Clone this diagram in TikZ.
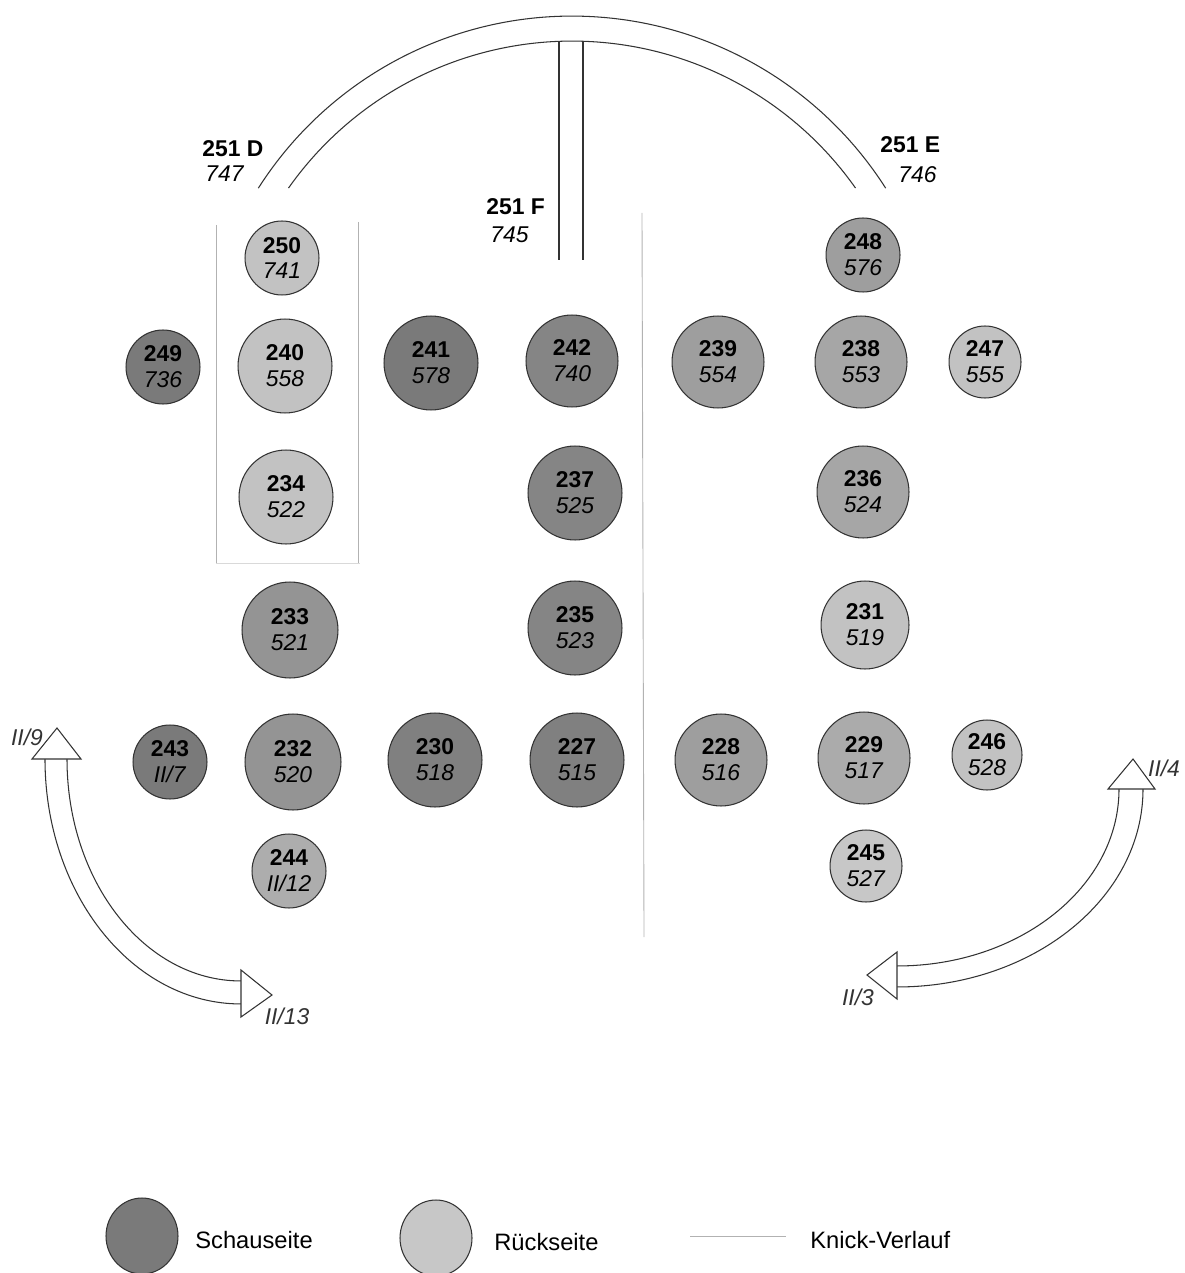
\documentclass[tikz,border=0pt]{standalone}
\usepackage{fontspec}
\setmainfont{Liberation Sans}
\usetikzlibrary{shapes.geometric}
\tikzset{
  disc/.style={circle, draw=black!80, line width=0.6pt, inner sep=0pt, align=center,
    font=\fontsize{13}{14.7}\selectfont},
  knick/.style={draw=black!30, line width=0.5pt},
  outline/.style={draw=black!80, line width=0.6pt},
  lbl/.style={font=\fontsize{13}{15}\selectfont, inner sep=0pt},
  legtxt/.style={font=\fontsize{13.5}{15}\selectfont, inner sep=0pt, anchor=west},
}

\begin{document}
\begin{tikzpicture}[x=0.02cm, y=-0.02cm]
    \useasboundingbox (0,0) rectangle (1185,1273);

    % Knick-Verlauf
    \draw[knick] (216,225) -- (216,563);
    \draw[knick] (358,222) -- (358,563);
    \draw[draw=black!15, line width=0.5pt] (216,563) -- (360,563);
    \draw[knick] (642,213) -- (644,937);

    % Bogen oben
    \coordinate (arcc) at (572,388);
    \draw[outline] ([shift={(147.5:7.44cm)}]arcc) arc[start angle=147.5, end angle=32.5, radius=7.44cm];
    \draw[outline] ([shift={(144.8:6.94cm)}]arcc) arc[start angle=144.8, end angle=35.2, radius=6.94cm];
    \draw[outline] (559,41.2) -- (559,260);
    \draw[outline] (583,41.2) -- (583,260);

    \node[lbl, anchor=base west, font=\fontsize{13}{15}\selectfont\bfseries] (lD) at (202,157) {251 D};
    \node[lbl, anchor=base west, font=\fontsize{13}{15}\selectfont\itshape] (lDr) at (205,182) {747};
    \node[lbl, anchor=base west, font=\fontsize{13}{15}\selectfont\bfseries] (lF) at (486,215) {251 F};
    \node[lbl, anchor=base west, font=\fontsize{13}{15}\selectfont\itshape] (lFr) at (490,243) {745};
    \node[lbl, anchor=base west, font=\fontsize{13}{15}\selectfont\bfseries] (lE) at (880,153) {251 E};
    \node[lbl, anchor=base west, font=\fontsize{13}{15}\selectfont\itshape] (lEr) at (898,183) {746};

    % Scheiben: Nr/x/y/Radius/Grau/Rueckseite
    \foreach \nm/\px/\py/\rad/\shade/\nb in {
        250/282/258/37/24/741, 248/863/255/37/38/576,
        249/163/367/37/52/736, 240/285/366/47/24/558, 241/431/363/47/52/578,
        242/572/361/46/48/740, 239/718/362/46/38/554, 238/861/362/46/35/553,
        247/985/362/36/24/555,
        234/286/497/47/24/522, 237/575/493/47/48/525, 236/863/492/46/35/524,
        233/290/630/48/42/521, 235/575/628/47/48/523, 231/865/625/44/24/519,
        243/170/762/37/52/{II/7}, 232/293/762/48/42/520, 230/435/760/47/50/518,
        227/577/760/47/50/515, 228/721/760/46/38/516, 229/864/758/46/33/517,
        246/987/755/35/24/528,
        244/289/871/37/32/{II/12}, 245/866/866/36/22/527}
        \node[disc, fill=black!\shade, minimum size=\rad*0.04cm] (c\nm) at (\px,\py)
            {\textbf{\nm}\\\textit{\nb}};

    % Pfeile links
    \draw[outline] (45,759) arc[start angle=180, end angle=270, x radius=3.92cm, y radius=4.9cm];
    \draw[outline] (67,759) arc[start angle=180, end angle=270, x radius=3.48cm, y radius=4.44cm];
    \draw[outline, fill=white] (32,759) -- (57,728) -- (81,759) -- cycle;
    \draw[outline, fill=white] (241,970) -- (272,995) -- (241,1017) -- cycle;
    \node[lbl, font=\fontsize{13}{15}\selectfont\itshape, text=black!80] (p9) at (27,737) {II/9};
    \node[lbl, font=\fontsize{13}{15}\selectfont\itshape, text=black!80] (p13) at (287,1016) {II/13};

    % Pfeile rechts
    \draw[outline] (1143,789) arc[start angle=0, end angle=-90, x radius=4.92cm, y radius=3.96cm];
    \draw[outline] (1119,789) arc[start angle=0, end angle=-90, x radius=4.44cm, y radius=3.54cm];
    \draw[outline, fill=white] (1108,789) -- (1133,759) -- (1155,789) -- cycle;
    \draw[outline, fill=white] (897,952) -- (867,975) -- (897,999) -- cycle;
    \node[lbl, font=\fontsize{13}{15}\selectfont\itshape, text=black!80] (p4) at (1164,768) {II/4};
    \node[lbl, font=\fontsize{13}{15}\selectfont\itshape, text=black!80] (p3) at (858,997) {II/3};

    % Legende
    \node[ellipse, draw=black!80, line width=0.6pt, fill=black!52, minimum width=1.44cm, minimum height=1.52cm] (lgS) at (142,1236) {};
    \node[legtxt] (tS) at (195,1240) {Schauseite};
    \node[ellipse, draw=black!80, line width=0.6pt, fill=black!22, minimum width=1.44cm, minimum height=1.52cm] (lgR) at (436,1238) {};
    \node[legtxt] (tR) at (494,1242) {Rückseite};
    \coordinate (kA) at (690,1236);
    \coordinate (kB) at (786,1236);
    \draw[knick] (kA) -- (kB);
    \node[legtxt] (tK) at (810,1240) {Knick-Verlauf};
\end{tikzpicture}
\end{document}
